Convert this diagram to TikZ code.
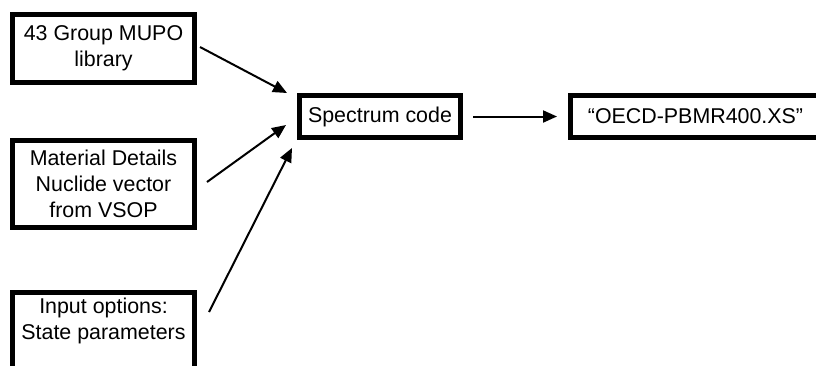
\documentclass[tikz,border=0pt]{standalone}
\usepackage{fontspec}
\setmainfont{Liberation Sans}
\usetikzlibrary{arrows.meta}
\begin{document}
\begin{tikzpicture}[x=1pt,y=-1pt,
  box/.style={draw=black,line width=5pt,inner sep=0pt,align=center,
    font=\fontsize{21.4}{26}\selectfont},
  txt/.style={inner sep=0pt,align=center,font=\fontsize{21.4}{26}\selectfont},
  arr/.style={line width=2pt,-{Triangle[length=14pt,width=12pt]}}]
\useasboundingbox[fill=white] (0,0) rectangle (816,365);
\node[box,minimum width=182pt,minimum height=68pt] (mupo) at (103.5,48.5) {43 Group MUPO\\library};
\node[box,minimum width=182pt,minimum height=87pt] (mat) at (103.5,184) {Material Details\\Nuclide vector\\from VSOP};
\node[box,minimum width=182pt,minimum height=110pt,anchor=north] (inbox) at (103.5,289.5) {};
\node[txt] (inp) at (103.5,321) {Input options:\\State parameters};
\node[box,minimum width=161pt,minimum height=42pt] (spec) at (380,116.5) {Spectrum code};
\node[box,minimum width=262pt,minimum height=42pt] (oecd) at (701.5,116.5) {\hspace*{-12pt}“OECD-PBMR400.XS”};
\coordinate (t1) at (287,93);
\coordinate (t2) at (286,125);
\coordinate (t3) at (292,148);
\draw[arr] ([xshift=3pt,yshift=1.5pt]mupo.east) -- (t1);
\draw[arr] ([xshift=10pt,yshift=2pt]mat.east) -- (t2);
\draw[arr] ([xshift=12pt,yshift=9pt]inbox.north east |- inp.center) -- (t3);
\draw[arr] ([xshift=10pt]spec.east) -- ([xshift=-11pt]oecd.west);
\end{tikzpicture}
\end{document}
